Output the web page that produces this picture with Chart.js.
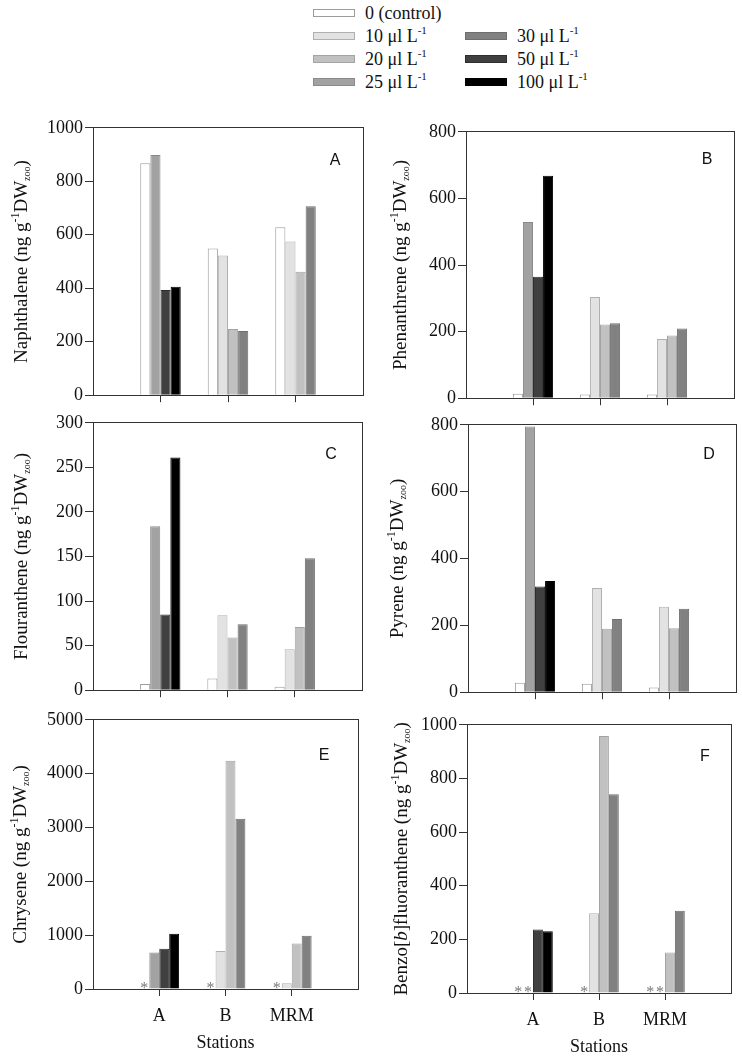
<!DOCTYPE html>
<html>
<head>
<meta charset="utf-8">
<script src="https://cdn.jsdelivr.net/npm/chart.js@4.4.1/dist/chart.umd.min.js"></script>
<style>
html, body { margin: 0; padding: 0; background: #fff; overflow: hidden; }
#page { position: relative; width: 742px; height: 1057px; }
.panel { position: absolute; }
.swatch { position: absolute; width: 42px; height: 8px; box-sizing: border-box; border: 1px solid; }
.key { position: absolute; font: 18px "Liberation Serif", serif; color: #111; white-space: nowrap; line-height: 18px; }
.key sup { font-size: 11px; line-height: 0; position: relative; top: -1px; }
</style>
</head>
<body>
<div id="page"></div>
<script>
// stations on the x axis, spiking doses in the legend
const stations = ['A', 'B', 'MRM'];
const doses = [0, 10, 20, 25, 30, 50, 100];
const fills = ['#ffffff', '#e2e2e2', '#c1c1c1', '#a2a2a2', '#818181', '#404040', '#000000'];
const edges = ['#9c9c9c', '#b0b0b0', '#a3a3a3', '#8a8a8a', '#6e6e6e', '#2e2e2e', '#000000'];

// one row per dose, columns = A, B, MRM
// null = dose not used at that station, 0 = not detected (*)
const naphthalene = [
  [867, 549, 628],
  [null, 522, 575],
  [null, 248, 462],
  [898, null, null],
  [null, 240, 707],
  [393, null, null],
  [406, null, null]
];
const phenanthrene = [
  [13, 11, 11],
  [null, 304, 178],
  [null, 221, 188],
  [529, null, null],
  [null, 225, 209],
  [365, null, null],
  [668, null, null]
];
const flouranthene = [
  [7, 13, 4],
  [null, 84, 46],
  [null, 59, 71],
  [184, null, null],
  [null, 74, 148],
  [85, null, null],
  [261, null, null]
];
const pyrene = [
  [28, 25, 14],
  [null, 312, 256],
  [null, 190, 191],
  [795, null, null],
  [null, 219, 250],
  [316, null, null],
  [333, null, null]
];
const chrysene = [
  [0, 0, 0],
  [null, 704, 105],
  [null, 4240, 847],
  [680, null, null],
  [null, 3164, 988],
  [747, null, null],
  [1025, null, null]
];
const benzoBF = [
  [0, 0, 0],
  [null, 297, 0],
  [null, 958, 151],
  [0, null, null],
  [null, 741, 307],
  [237, null, null],
  [230, null, null]
];

const compounds = ['Naphthalene', 'Phenanthrene', 'Flouranthene', 'Pyrene', 'Chrysene', 'Benzo[b]fluoranthene'];
const tables = [naphthalene, phenanthrene, flouranthene, pyrene, chrysene, benzoBF];
const letters = ['A', 'B', 'C', 'D', 'E', 'F'];
const yMax = [1000, 800, 300, 800, 5000, 1000];
const yStep = [200, 200, 50, 200, 1000, 200];

// plot boxes [left, top, right, bottom] and label offsets
const layout = [
  { box: [93, 127, 363, 396], tdx: 71, lx: 28, ly: 33 },
  { box: [466, 131, 734, 399], tdx: 65, lx: 27, ly: 28 },
  { box: [93, 422, 362, 691], tdx: 71, lx: 31, ly: 32 },
  { box: [468, 424, 736, 693], tdx: 70, lx: 27, ly: 30 },
  { box: [93, 719, 362, 989], tdx: 72, lx: 34, ly: 36 },
  { box: [467, 724, 735, 993], tdx: 65, lx: 26, ly: 32 }
];

const SERIF = '"Liberation Serif", "Times New Roman", serif';
const INK = '#111';
const AXIS = '#333';
const YW = 85;

const page = document.getElementById('page');

// legend
doses.forEach((d, i) => {
  const col = i < 4 ? 0 : 1;
  const row = i < 4 ? i : i - 3;
  const cy = 13 + row * 23;
  const sw = document.createElement('div');
  sw.className = 'swatch';
  sw.style.left = (col ? 465 : 313) + 'px';
  sw.style.top = (cy - 4) + 'px';
  sw.style.background = fills[i];
  sw.style.borderColor = edges[i];
  page.appendChild(sw);
  const tx = document.createElement('div');
  tx.className = 'key';
  tx.style.left = (col ? 517 : 365) + 'px';
  tx.style.top = (cy - 9) + 'px';
  tx.innerHTML = d === 0 ? '0 (control)' : d + ' \u03bcl L<sup>-1</sup>';
  page.appendChild(tx);
});

function titleParts(name) {
  const parts = [];
  name.split(/(\[\w\])/).forEach(p => {
    const m = p.match(/^\[(\w)\]$/);
    if (m) parts.push({ t: '[' }, { t: m[1], italic: true }, { t: ']' });
    else if (p) parts.push({ t: p });
  });
  parts.push({ t: ' (ng g' }, { t: '-1', sup: true }, { t: 'DW' }, { t: 'zoo', sub: true }, { t: ')' });
  return parts;
}

function partFont(p) {
  if (p.sup) return '12px ' + SERIF;
  if (p.sub) return '10px ' + SERIF;
  return (p.italic ? 'italic ' : '') + '19px ' + SERIF;
}

const yTitle = {
  id: 'yTitle',
  afterDraw(chart, args, opts) {
    const ctx = chart.ctx, a = chart.chartArea;
    let total = 0;
    opts.parts.forEach(p => { ctx.font = partFont(p); p.w = ctx.measureText(p.t).width; total += p.w; });
    ctx.save();
    ctx.translate(a.left - opts.dx, (a.top + a.bottom) / 2);
    ctx.rotate(-Math.PI / 2);
    ctx.textBaseline = 'middle';
    ctx.fillStyle = INK;
    let x = -total / 2;
    opts.parts.forEach(p => {
      ctx.font = partFont(p);
      ctx.fillText(p.t, x, p.sup ? -6 : p.sub ? 5 : 0);
      x += p.w;
    });
    ctx.restore();
  }
};

const frame = {
  id: 'frame',
  afterDatasetsDraw(chart) {
    const ctx = chart.ctx, a = chart.chartArea;
    const l = Math.round(a.left - 0.5) + 0.5, t = Math.round(a.top - 0.5) + 0.5;
    const r = Math.round(a.right - 0.5) + 0.5, b = Math.round(a.bottom - 0.5) + 0.5;
    ctx.save();
    ctx.strokeStyle = AXIS;
    ctx.lineWidth = 1;
    ctx.strokeRect(l, t, r - l, b - t);
    ctx.restore();
  }
};

// asterisks for not detected values, and the panel letter
const marks = {
  id: 'marks',
  afterDraw(chart, args, opts) {
    const ctx = chart.ctx, a = chart.chartArea;
    ctx.save();
    ctx.font = '16px ' + SERIF;
    ctx.fillStyle = '#7a7a7a';
    ctx.textAlign = 'center';
    ctx.textBaseline = 'alphabetic';
    chart.data.datasets.forEach((ds, i) => {
      const meta = chart.getDatasetMeta(i);
      ds.data.forEach((v, j) => {
        if (v === 0) ctx.fillText('*', meta.data[j].x, a.bottom + 4);
      });
    });
    ctx.font = '16px "Liberation Sans", Arial, sans-serif';
    ctx.fillStyle = INK;
    ctx.textBaseline = 'middle';
    ctx.fillText(opts.letter, a.right - opts.lx, a.top + opts.ly);
    ctx.restore();
  }
};

tables.forEach((table, k) => {
  const L = layout[k];
  const [l, t, r, b] = L.box;
  const bottomRow = k >= 4;
  const xh = bottomRow ? 66 : 12;
  const left = l - YW, top = t - 12;
  const w = r - left + 5, h = b - top + xh;

  const holder = document.createElement('div');
  holder.className = 'panel';
  holder.style.left = left + 'px';
  holder.style.top = top + 'px';
  const cv = document.createElement('canvas');
  cv.width = w; cv.height = h;
  cv.style.width = w + 'px'; cv.style.height = h + 'px';
  holder.appendChild(cv);
  page.appendChild(holder);

  const datasets = doses.map((d, i) => ({
    label: d === 0 ? '0 (control)' : d + ' \u03bcl L-1',
    data: [null, ...table[i], null],
    backgroundColor: fills[i],
    borderColor: edges[i],
    borderWidth: c => (c.raw === 0 ? 0 : 1),
    skipNull: true,
    barPercentage: 1,
    categoryPercentage: 0.6
  }));

  new Chart(cv, {
    type: 'bar',
    data: { labels: ['', ...stations, ''], datasets },
    options: {
      responsive: false,
      animation: false,
      events: [],
      layout: { padding: { top: 12, right: 5, bottom: 0, left: 0 } },
      plugins: {
        legend: { display: false },
        tooltip: { enabled: false },
        yTitle: { parts: titleParts(compounds[k]), dx: L.tdx },
        marks: { letter: letters[k], lx: L.lx, ly: L.ly }
      },
      scales: {
        x: {
          type: 'category',
          offset: false,
          grid: {
            offset: false,
            drawOnChartArea: false,
            drawTicks: true,
            tickLength: 7,
            color: c => (c.index > 0 && c.index < 4 ? AXIS : 'rgba(0,0,0,0)')
          },
          border: { display: false },
          ticks: { display: bottomRow, autoSkip: false, maxRotation: 0, padding: 9, color: INK, font: { family: SERIF, size: 18 } },
          title: { display: bottomRow, text: 'Stations', color: INK, font: { family: SERIF, size: 18 }, padding: { top: 0, bottom: 1 } },
          afterFit: s => { s.height = xh; }
        },
        y: {
          min: 0,
          max: yMax[k],
          grid: { drawOnChartArea: false, drawTicks: true, tickLength: 8, color: AXIS },
          border: { display: false },
          ticks: { stepSize: yStep[k], padding: 2, color: INK, font: { family: SERIF, size: 18 }, callback: v => String(v) },
          afterFit: s => { s.width = YW; }
        }
      }
    },
    plugins: [frame, yTitle, marks]
  });
});
</script>
</body>
</html>
